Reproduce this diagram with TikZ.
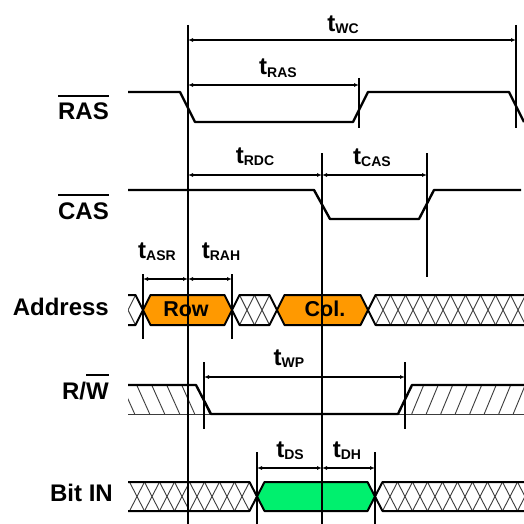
\documentclass[tikz,border=0pt]{standalone}
\usepackage{fontspec}
\setmainfont{Liberation Sans}
\usetikzlibrary{arrows.meta}
\definecolor{roworange}{RGB}{255,153,0}
\definecolor{bitgreen}{RGB}{0,240,110}
\definecolor{hatchgray}{RGB}{60,60,60}
\newlength\ovlw
\newcommand{\ovltext}[1]{\settowidth{\ovlw}{#1}\rlap{\rule[23pt]{\ovlw}{2pt}}#1}
\newcommand{\tlab}[1]{{\fontsize{24}{24}\selectfont t}\raisebox{-2pt}{\fontsize{14}{14}\selectfont #1}}
\newcommand{\xfill}[4]{\foreach \k in {0,...,#2}{\draw[xh] ({#1+15*\k-7.5},#3) -- ({#1+15*\k+7.5},#4) ({#1+15*\k-7.5},#4) -- ({#1+15*\k+7.5},#3);}}
\tikzset{
  sig/.style={line width=2.4pt, line join=round},
  vline/.style={line width=1.8pt},
  tick/.style={line width=1.6pt},
  dim/.style={line width=1.4pt, {Latex[length=5pt,width=4pt]}-{Latex[length=5pt,width=4pt]}},
  busline/.style={line width=2pt, line join=round},
  xh/.style={line width=0.9pt, hatchgray},
  lab/.style={font=\bfseries\fontsize{24}{24}\selectfont, inner sep=0pt, anchor=base east},
  tl/.style={font=\bfseries, inner sep=0pt, anchor=base},
  boxtxt/.style={font=\bfseries\fontsize{21.5}{21.5}\selectfont, inner sep=0pt, anchor=base}
}
\begin{document}
\begin{tikzpicture}[x=1pt,y=-1pt]
\clip (0,0) rectangle (524,524);
\fill[white] (0,0) rectangle (524,524);

% ---------- signal labels ----------
\node[lab] (nras) at (109,120) {\ovltext{RAS}};
\node[lab] (ncas) at (109,219) {\ovltext{CAS}};
\node[lab] (naddr) at (109,315) {Address};
\node[lab] (nrw) at (109,399) {R/\ovltext{W}};
\node[lab] (nbit) at (113,501) {Bit IN};

% ---------- RAS / CAS ----------
\draw[sig] (128,92)--(180,92)--(195,122)--(353,122)--(368,92)--(509,92)--(524,122);
\draw[sig] (128,190)--(314,190)--(330,219)--(419,219)--(434,190)--(521,190);

% ---------- Address bus ----------
\begin{scope}
\clip (128,295)--(135.5,295)--(143,310)--(135.5,325)--(128,325)--cycle;
\xfill{128}{1}{295}{325}
\end{scope}
\draw[busline] (128,295)--(135.5,295)--(143,310)--(135.5,325)--(128,325);
\draw[busline,fill=roworange] (143,310)--(150.5,295)--(224.5,295)--(232,310)--(224.5,325)--(150.5,325)--cycle;
\begin{scope}
\clip (232,310)--(239.5,295)--(269.5,295)--(277,310)--(269.5,325)--(239.5,325)--cycle;
\xfill{232}{3}{295}{325}
\end{scope}
\draw[busline] (232,310)--(239.5,295)--(269.5,295)--(277,310)--(269.5,325)--(239.5,325)--cycle;
\draw[busline,fill=roworange] (277,310)--(284.5,295)--(360.5,295)--(368,310)--(360.5,325)--(284.5,325)--cycle;
\begin{scope}
\clip (368,310)--(375.5,295)--(530,295)--(530,325)--(375.5,325)--cycle;
\xfill{368}{11}{295}{325}
\end{scope}
\draw[busline] (530,295)--(375.5,295)--(368,310)--(375.5,325)--(530,325);

% ---------- R/W ----------
\begin{scope}
\clip (128,385)--(196,385)--(211,414)--(128,414)--cycle;
\foreach \k in {-1,...,5} \draw[xh] ({136.7+15*\k},385) -- ({149.7+15*\k},414);
\end{scope}
\begin{scope}
\clip (398,414)--(412,385)--(530,385)--(530,414)--cycle;
\foreach \k in {0,...,8} \draw[xh] ({411.7+14.5*\k},414) -- ({423.7+14.5*\k},385);
\end{scope}
\draw[xh] (128,414)--(211,414);
\draw[xh] (398,414)--(530,414);
\draw[sig] (128,385)--(196,385)--(211,414)--(398,414)--(412,385)--(530,385);

% ---------- Bit IN ----------
\begin{scope}
\clip (128,482)--(249.5,482)--(257,496.5)--(249.5,511)--(128,511)--cycle;
\xfill{137}{8}{482}{511}
\end{scope}
\draw[busline] (128,482)--(249.5,482)--(257,496.5)--(249.5,511)--(128,511);
\draw[busline,fill=bitgreen] (257,496.5)--(264.5,482)--(367.5,482)--(375,496.5)--(367.5,511)--(264.5,511)--cycle;
\begin{scope}
\clip (375,496.5)--(382.5,482)--(530,482)--(530,511)--(382.5,511)--cycle;
\xfill{375}{11}{482}{511}
\end{scope}
\draw[busline] (530,482)--(382.5,482)--(375,496.5)--(382.5,511)--(530,511);

% ---------- box texts ----------
\node[boxtxt] (trow) at (186,316) {Row};
\node[boxtxt] (tcol) at (325,316) {Col.};

% ---------- reference lines and ticks ----------
\coordinate (v1a) at (188,25);  \coordinate (v1b) at (188,530);
\coordinate (v2a) at (322,153); \coordinate (v2b) at (322,530);
\draw[vline] (v1a) -- (v1b);
\draw[vline] (v2a) -- (v2b);
\coordinate (kwca) at (516,25);  \coordinate (kwcb) at (516,128);
\coordinate (kraa) at (359,78);  \coordinate (krab) at (359,128);
\coordinate (kcaa) at (427,153); \coordinate (kcab) at (427,277);
\coordinate (kasa) at (143,274); \coordinate (kasb) at (143,339);
\coordinate (kaha) at (232,274); \coordinate (kahb) at (232,339);
\coordinate (kwpa) at (204,362); \coordinate (kwpb) at (204,429);
\coordinate (kwqa) at (405,362); \coordinate (kwqb) at (405,429);
\coordinate (kdsa) at (257,452); \coordinate (kdsb) at (257,530);
\coordinate (kdha) at (375,452); \coordinate (kdhb) at (375,530);
\foreach \a/\b in {kwca/kwcb,kraa/krab,kcaa/kcab,kasa/kasb,kaha/kahb,kwpa/kwpb,kwqa/kwqb,kdsa/kdsb,kdha/kdhb}
  \draw[tick] (\a) -- (\b);

% ---------- dimension arrows ----------
\draw[dim] (v1a |- 0,40) -- (kwca |- 0,40);
\draw[dim] (v1a |- 0,85) -- (kraa |- 0,85);
\draw[dim] (v1a |- 0,175) -- (v2a |- 0,175);
\draw[dim] (v2a |- 0,175) -- (kcaa |- 0,175);
\draw[dim] (kasa |- 0,279) -- (v1a |- 0,279);
\draw[dim] (v1a |- 0,279) -- (kaha |- 0,279);
\draw[dim] (kwpa |- 0,377) -- (kwqa |- 0,377);
\draw[dim] (kdsa |- 0,468) -- (v2a |- 0,468);
\draw[dim] (v2a |- 0,468) -- (kdha |- 0,468);

% ---------- timing labels ----------
\node[tl] (lwc) at (343,32) {\tlab{WC}};
\node[tl] (lras) at (278,75) {\tlab{RAS}};
\node[tl] (lrdc) at (255,163) {\tlab{RDC}};
\node[tl] (lcas) at (372,164) {\tlab{CAS}};
\node[tl] (lasr) at (157,258) {\tlab{ASR}};
\node[tl] (lrah) at (221,258) {\tlab{RAH}};
\node[tl] (lwp) at (289,365) {\tlab{WP}};
\node[tl] (lds) at (290,457) {\tlab{DS}};
\node[tl] (ldh) at (347,457) {\tlab{DH}};
\end{tikzpicture}
\end{document}
